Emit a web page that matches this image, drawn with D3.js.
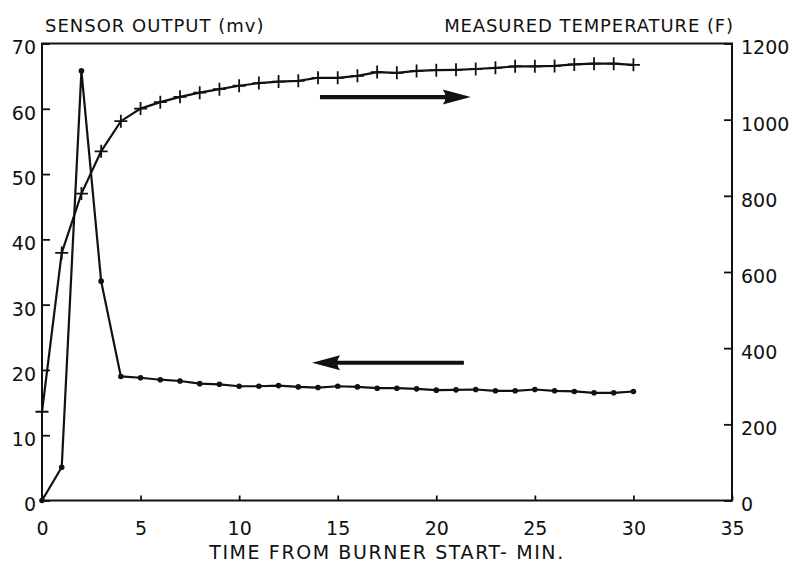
<!DOCTYPE html>
<html><head><meta charset="utf-8">
<script src="https://cdn.jsdelivr.net/npm/d3@7"></script>
<style>body{margin:0;background:#fff}svg{display:block}text{font-family:"DejaVu Sans",sans-serif;fill:#111}</style>
</head><body>
<script>
// ---- data ----
const timeMin = [0,1,2,3,4,5,6,7,8,9,10,11,12,13,14,15,16,17,18,19,20,21,22,23,24,25,26,27,28,29,30];
const sensorMv = [0,5.1,65.8,33.6,19.0,18.8,18.5,18.3,17.9,17.8,17.5,17.5,17.6,17.4,17.3,17.5,17.4,17.2,17.2,17.1,16.9,16.95,17.0,16.8,16.8,17.0,16.8,16.7,16.5,16.5,16.7];
const tempF = [233,650,806,917,996,1029,1046,1060,1071,1080,1089,1096,1100,1102,1110,1110,1115,1125,1123,1128,1130,1131,1133,1136,1140,1140,1141,1145,1147,1147,1144];
const xTicks = [0,5,10,15,20,25,30,35];
const leftTicks = [0,10,20,30,40,50,60,70];
const rightTicks = [0,200,400,600,800,1000,1200];
const titleLeft = "SENSOR OUTPUT (mv)";
const titleRight = "MEASURED TEMPERATURE (F)";
const titleX = "TIME FROM BURNER START- MIN.";
// arrows (in data units: minutes, mV)
const arrowTemp = [14.1, 21.75, 61.8];   // from x, to x, y
const arrowSensor = [21.4, 13.7, 21.1];

// ---- layout ----
const W = 801, H = 582;
const L = 42, R = 732, T = 43.5, B = 500.5;
const svg = d3.select("body").append("svg").attr("width", W).attr("height", H);
const x = d3.scaleLinear().domain([0,35]).range([L,R]);
const yL = d3.scaleLinear().domain([0,70]).range([B,T]);
const yR = d3.scaleLinear().domain([0,1200]).range([B,T]);
const ink = "#111";
const fs = 19;

// frame
svg.append("rect").attr("x",L).attr("y",T).attr("width",R-L).attr("height",B-T)
  .attr("fill","none").attr("stroke",ink).attr("stroke-width",2);

function styleAxis(g){
  g.select(".domain").remove();
  g.selectAll(".tick line").attr("stroke",ink).attr("stroke-width",1.8);
  g.selectAll("text").attr("font-size",fs).attr("fill",ink).style("font-family","DejaVu Sans");
}
const gl = svg.append("g").attr("transform",`translate(${L},0)`)
  .call(d3.axisLeft(yL).tickValues(leftTicks).tickSize(-8).tickPadding(6).tickFormat(d3.format("d")));
styleAxis(gl); gl.selectAll("text").attr("dy","0.55em");
const gr = svg.append("g").attr("transform",`translate(${R},0)`)
  .call(d3.axisRight(yR).tickValues(rightTicks).tickSize(-8).tickPadding(9).tickFormat(d3.format("d")));
styleAxis(gr); gr.selectAll("text").attr("dy","0.55em");
const gb = svg.append("g").attr("transform",`translate(0,${B})`)
  .call(d3.axisBottom(x).tickValues(xTicks).tickSize(-5).tickPadding(21).tickFormat(d3.format("d")));
styleAxis(gb);

// titles
svg.append("text").attr("x",45).attr("y",32).attr("font-size",18).attr("letter-spacing",1.0).text(titleLeft);
svg.append("text").attr("x",734).attr("y",32).attr("text-anchor","end").attr("font-size",18).attr("letter-spacing",0.9).text(titleRight);
svg.append("text").attr("x",(L+R)/2).attr("y",559).attr("text-anchor","middle").attr("font-size",19).attr("letter-spacing",1.6).text(titleX);

// temperature series (crosses)
const tData = timeMin.map((t,i)=>[t,tempF[i]]);
svg.append("path").datum(tData).attr("fill","none").attr("stroke",ink).attr("stroke-width",2.2)
  .attr("d", d3.line().x(d=>x(d[0])).y(d=>yR(d[1])));
svg.selectAll(".cross").data(tData).join("path").attr("class","cross")
  .attr("transform",d=>`translate(${x(d[0])},${yR(d[1])})`)
  .attr("d","M-6.5,0H6.5M0,-6.5V6.5").attr("stroke",ink).attr("stroke-width",1.8).attr("fill","none");

// sensor series (dots)
const sData = timeMin.map((t,i)=>[t,sensorMv[i]]);
svg.append("path").datum(sData).attr("fill","none").attr("stroke",ink).attr("stroke-width",2.2)
  .attr("d", d3.line().x(d=>x(d[0])).y(d=>yL(d[1])));
svg.selectAll(".dot").data(sData).join("circle").attr("class","dot")
  .attr("cx",d=>x(d[0])).attr("cy",d=>yL(d[1])).attr("r",2.8).attr("fill",ink);

// arrows
function arrow(a){
  const x1 = x(a[0]), x2 = x(a[1]), y = yL(a[2]);
  const dir = Math.sign(x2-x1), hl = 28, hw = 7.5;
  svg.append("line").attr("x1",x1).attr("x2",x2-dir*hl*0.6).attr("y1",y).attr("y2",y)
    .attr("stroke",ink).attr("stroke-width",4.2);
  svg.append("path").attr("d",`M${x2},${y}L${x2-dir*hl},${y-hw}Q${x2-dir*hl*0.8},${y} ${x2-dir*hl},${y+hw}Z`).attr("fill",ink);
}
arrow(arrowTemp);
arrow(arrowSensor);
</script>
</body></html>
